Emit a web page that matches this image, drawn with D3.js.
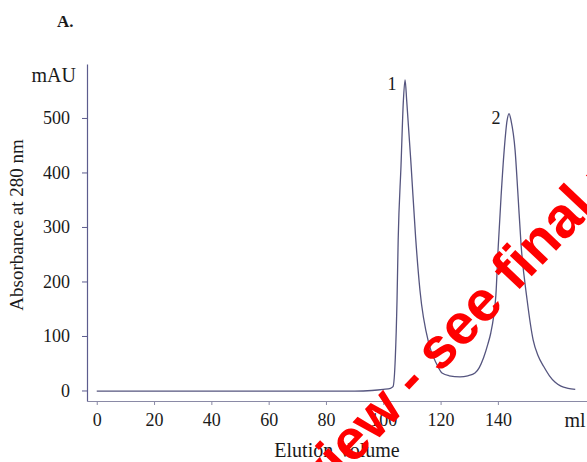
<!DOCTYPE html>
<html>
<head>
<meta charset="utf-8">
<script src="https://cdn.jsdelivr.net/npm/d3@7"></script>
<style>
body { margin: 0; background: #fff; }
svg { display: block; }
text { font-family: "Liberation Serif", "Times New Roman", serif; fill: #1a1a1a; }
</style>
</head>
<body>
<svg id="chart" width="587" height="462"></svg>
<script>
// elution volume (ml) and absorbance at 280 nm (mAU)
var volume = [0, 10, 20, 30, 40, 50, 60, 70, 80, 90, 96, 100, 102.5, 103.4, 104.2, 104.8, 105.2, 106.2, 107, 107.6,
	108.2, 109.7, 111.3, 112.8, 116, 118.8, 120.5, 123, 126.8, 129.5, 132, 133.5, 135, 136.5, 137.5, 138.5, 139.3,
	140.1, 141.1, 142.2, 143.2, 143.9, 144.6, 146, 147, 148.1, 150.2, 152.3, 154, 156, 158, 160, 162, 164.5, 167];
var absorbance = [-1, -1, -1, -1, -1, -1, -1, -1, -1, -1, 0, 2, 4, 7, 60, 166, 276, 414, 530, 570,
	530, 414, 280, 184, 84, 47, 32, 27, 25, 27, 32, 42, 60, 85, 105, 135, 175,
	262, 355, 441, 495, 508, 495, 441, 360, 267, 166, 93, 64, 44, 27, 15, 8, 4, 2];
var xTicks = [0, 20, 40, 60, 80, 100, 120, 140];
var yTicks = [0, 100, 200, 300, 400, 500];
var peakLabels = ['1', '2'];
var peakVolumes = [107.6, 143.9];
var peakHeights = [570, 508];

var plotLeft = 87, plotRight = 587, plotTop = 64, plotBottom = 401;
var svg = d3.select('#chart');

var x = d3.scaleLinear().domain([-3.4, 171.1]).range([plotLeft, plotRight]);
var y = d3.scaleLinear().domain([-19.3, 599]).range([plotBottom, plotTop]);

// axes
var xAxis = svg.append('g')
	.attr('transform', 'translate(0,' + plotBottom + ')')
	.call(d3.axisBottom(x).tickValues(xTicks).tickSize(4).tickSizeOuter(0).tickPadding(8));
xAxis.select('.domain').attr('stroke', '#8a8aa6').attr('stroke-width', 1.2);
xAxis.selectAll('.tick line').attr('stroke', '#8a8aa6');
xAxis.selectAll('.tick text').attr('font-size', 18);

var yAxis = svg.append('g')
	.attr('transform', 'translate(' + plotLeft + ',0)')
	.call(d3.axisLeft(y).tickValues(yTicks).tickSize(5).tickSizeOuter(0).tickPadding(12));
yAxis.select('.domain').attr('stroke', '#5c5c8e').attr('stroke-width', 1.2);
yAxis.selectAll('.tick line').attr('stroke', '#5c5c8e');
yAxis.selectAll('.tick text').attr('font-size', 18);

// trace
var points = volume.map(function (v, i) { return [v, absorbance[i]]; });
var line = d3.line()
	.x(function (d) { return x(d[0]); })
	.y(function (d) { return y(d[1]); })
	.curve(d3.curveMonotoneX);
svg.append('path')
	.datum(points)
	.attr('fill', 'none')
	.attr('stroke', '#55557f')
	.attr('stroke-width', 1.3)
	.attr('d', line);

// peak numbers
svg.selectAll('text.peak')
		.data(peakLabels)
	.enter()
		.append('text')
		.classed('peak', true)
		.attr('x', function (d, i) { return x(peakVolumes[i]) - 13; })
		.attr('y', function (d, i) { return y(peakHeights[i]) + 10; })
		.attr('text-anchor', 'middle')
		.attr('font-size', 18)
		.text(function (d) { return d; });

// titles
svg.append('text').attr('x', 57).attr('y', 27).attr('font-size', 17).attr('font-weight', 'bold').text('A.');
svg.append('text').attr('x', 76).attr('y', 82).attr('text-anchor', 'end').attr('font-size', 20).text('mAU');
svg.append('text').attr('x', 575).attr('y', 427).attr('text-anchor', 'middle').attr('font-size', 20).text('ml');
svg.append('text').attr('x', 337).attr('y', 457).attr('text-anchor', 'middle').attr('font-size', 20).text('Elution Volume');
svg.append('text')
	.attr('transform', 'translate(23,225) rotate(-90)')
	.attr('text-anchor', 'middle')
	.attr('font-size', 19)
	.text('Absorbance at 280 nm');

// watermark
svg.append('text')
	.attr('transform', 'translate(257,567) rotate(-46.6)')
	.style('font-family', '"Liberation Sans", Arial, sans-serif')
	.style('font-weight', 'bold')
	.style('font-size', '57px')
	.style('fill', '#ff0000')
	.text('Preview - see final version');
</script>
</body>
</html>
